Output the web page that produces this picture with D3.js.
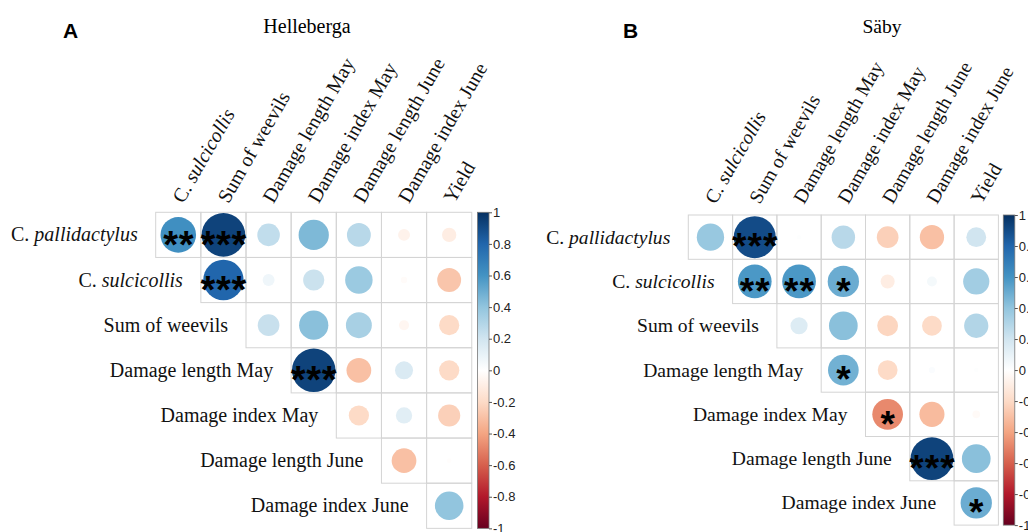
<!DOCTYPE html>
<html>
<head>
<meta charset="utf-8">
<script src="https://cdn.jsdelivr.net/npm/d3@7"></script>
<style>
  body { margin: 0; background: #fff; }
  svg { display: block; }
</style>
</head>
<body>
<svg id="chart" width="1028" height="532"></svg>
<script>
// variable names (rows = first 7, columns = last 7)
var variables = ["C. pallidactylus", "C. sulcicollis", "Sum of weevils", "Damage length May",
                 "Damage index May", "Damage length June", "Damage index June", "Yield"];
var rowLabels = variables.slice(0, 7);
var colLabels = variables.slice(1);

// upper triangle, row i holds columns i..6
var hellebergaR = [
  [0.62, 0.93, 0.25, 0.45, 0.28, -0.07, -0.10],
  [0.80, 0.07, 0.22, 0.37, -0.02, -0.28],
  [0.23, 0.42, 0.33, -0.05, -0.20],
  [0.93, -0.30, 0.16, -0.20],
  [-0.20, 0.13, -0.24],
  [-0.30, -0.01],
  [0.40]
];
var hellebergaSig = [
  ["**", "***", "", "", "", "", ""],
  ["***", "", "", "", "", ""],
  ["", "", "", "", ""],
  ["***", "", "", ""],
  ["", "", ""],
  ["", ""],
  [""]
];

var sabyR = [
  [0.38, 0.90, 0.01, 0.28, -0.24, -0.30, 0.20],
  [0.58, 0.58, 0.50, -0.10, 0.05, 0.35],
  [0.15, 0.42, -0.22, -0.20, 0.30],
  [0.48, -0.20, 0.02, 0.01],
  [-0.48, -0.32, -0.03],
  [0.93, 0.42],
  [0.50]
];
var sabySig = [
  ["", "***", "", "", "", "", ""],
  ["**", "**", "*", "", "", ""],
  ["", "", "", "", ""],
  ["*", "", "", ""],
  ["*", "", ""],
  ["***", ""],
  ["*"]
];

var legendTicks = [1, 0.8, 0.6, 0.4, 0.2, 0, -0.2, -0.4, -0.6, -0.8, -1];

// corrplot RdBu ramp
var palette = ["#67001F", "#B2182B", "#D6604D", "#F4A582", "#FDDBC7", "#FFFFFF",
               "#D1E5F0", "#92C5DE", "#4393C3", "#2166AC", "#053061"];
var color = d3.scaleLinear()
  .domain(d3.range(11).map(function(i) { return -1 + 0.2 * i; }))
  .range(palette);

var serif = "'Liberation Serif', 'Times New Roman', serif";
var sans = "'Liberation Sans', Arial, sans-serif";

var svg = d3.select("#chart");
svg.append("rect").attr("width", 1028).attr("height", 532).attr("fill", "#fff");

var defs = svg.append("defs");
var grad = defs.append("linearGradient").attr("id", "rdbu")
  .attr("x1", 0).attr("y1", 1).attr("x2", 0).attr("y2", 0);
palette.forEach(function(c, i) {
  grad.append("stop").attr("offset", (i / 10 * 100) + "%").attr("stop-color", c);
});

function labelText(sel, name) {
  // genus abbreviation upright, species italic
  if (name.indexOf("C. ") === 0) {
    sel.append("tspan").text("C. ");
    sel.append("tspan").attr("font-style", "italic").text(name.slice(3));
  } else {
    sel.text(name);
  }
}

function drawPanel(opt) {
  var g = svg.append("g");
  var n = rowLabels.length;
  var x = d3.scaleBand().domain(colLabels).range([opt.x0, opt.x0 + n * opt.cell]);
  var y = d3.scaleBand().domain(rowLabels).range([opt.y0, opt.y0 + n * opt.cell]);
  var r = d3.scaleSqrt().domain([0, 1]).range([0, opt.cell / 2]);
  var bw = x.bandwidth();

  var cells = [];
  rowLabels.forEach(function(rl, i) {
    opt.values[i].forEach(function(v, k) {
      cells.push({ row: rl, col: colLabels[i + k], v: v, sig: opt.sig[i][k] });
    });
  });

  // panel letter and title
  g.append("text").attr("x", opt.letterX).attr("y", 38)
    .attr("font-family", sans).attr("font-weight", "bold").attr("font-size", 21)
    .text(opt.letter);
  g.append("text").attr("x", opt.titleX).attr("y", 33).attr("text-anchor", "middle")
    .attr("font-family", serif).attr("font-size", opt.fs).text(opt.title);

  // grid
  g.selectAll("rect.cell").data(cells).enter().append("rect")
    .attr("class", "cell")
    .attr("x", function(d) { return x(d.col); })
    .attr("y", function(d) { return y(d.row); })
    .attr("width", bw).attr("height", bw)
    .attr("fill", "none").attr("stroke", "#d4d4d4").attr("stroke-width", 1);

  // circles
  g.selectAll("circle").data(cells).enter().append("circle")
    .attr("cx", function(d) { return x(d.col) + bw / 2; })
    .attr("cy", function(d) { return y(d.row) + bw / 2; })
    .attr("r", function(d) { return r(Math.abs(d.v)); })
    .attr("fill", function(d) { return color(d.v); });

  // significance stars
  var stars = [];
  cells.forEach(function(d) {
    for (var s = 0; s < d.sig.length; s++) {
      stars.push({ d: d, off: (s - (d.sig.length - 1) / 2) * opt.starStep });
    }
  });
  g.selectAll("text.star").data(stars).enter().append("text")
    .attr("class", "star")
    .attr("x", function(s) { return x(s.d.col) + bw / 2 + s.off; })
    .attr("y", function(s) { return y(s.d.row) + bw / 2 + opt.starFs * 0.6; })
    .attr("text-anchor", "middle")
    .attr("font-family", sans).attr("font-weight", "bold")
    .attr("font-size", opt.starFs).attr("fill", "#000")
    .text("*");

  // row labels
  rowLabels.forEach(function(rl, i) {
    var t = g.append("text")
      .attr("x", x(colLabels[i]) - opt.rowGap)
      .attr("y", y(rl) + bw / 2)
      .attr("dy", "0.33em")
      .attr("text-anchor", "end")
      .attr("font-family", serif).attr("font-size", opt.fs).attr("fill", "#111");
    labelText(t, rl);
  });

  // column labels
  colLabels.forEach(function(cl) {
    var cx = x(cl) + bw / 2 + opt.colDx;
    var cy = opt.y0 - opt.colDy;
    var t = g.append("text")
      .attr("transform", "translate(" + cx + "," + cy + ") rotate(" + (-opt.angle) + ")")
      .attr("font-family", serif).attr("font-size", opt.fs).attr("fill", "#111");
    labelText(t, cl);
  });

  // colour legend
  var ly = d3.scaleLinear().domain([1, -1]).range([opt.y0, opt.y0 + n * opt.cell]);
  g.append("rect")
    .attr("x", opt.barX).attr("y", opt.y0)
    .attr("width", opt.barW).attr("height", n * opt.cell)
    .attr("fill", "url(#rdbu)").attr("stroke", "#777").attr("stroke-width", 0.8);
  var axis = d3.axisRight(ly).tickValues(legendTicks).tickSize(3).tickPadding(1)
    .tickFormat(function(d) { return String(+d.toFixed(1)); });
  var ax = g.append("g").attr("transform", "translate(" + (opt.barX + opt.barW) + ",0)").call(axis);
  ax.select(".domain").remove();
  ax.selectAll(".tick line").attr("stroke", "#555");
  ax.selectAll(".tick text").attr("font-family", sans).attr("font-size", 13).attr("fill", "#222");
}

drawPanel({
  letter: "A", letterX: 63, title: "Helleberga", titleX: 307,
  values: hellebergaR, sig: hellebergaSig,
  x0: 155.7, y0: 212.3, cell: 45.15, fs: 20, angle: 60, colDx: 5, colDy: 8, rowGap: 18,
  starFs: 38, starStep: 15.5,
  barX: 477.5, barW: 11.5
});

drawPanel({
  letter: "B", letterX: 623, title: "Säby", titleX: 882,
  values: sabyR, sig: sabySig,
  x0: 688.3, y0: 215, cell: 44.3, fs: 19.6, angle: 60, colDx: 5, colDy: 10, rowGap: 18,
  starFs: 37, starStep: 15.5,
  barX: 1003.3, barW: 11.5
});
</script>
</body>
</html>
